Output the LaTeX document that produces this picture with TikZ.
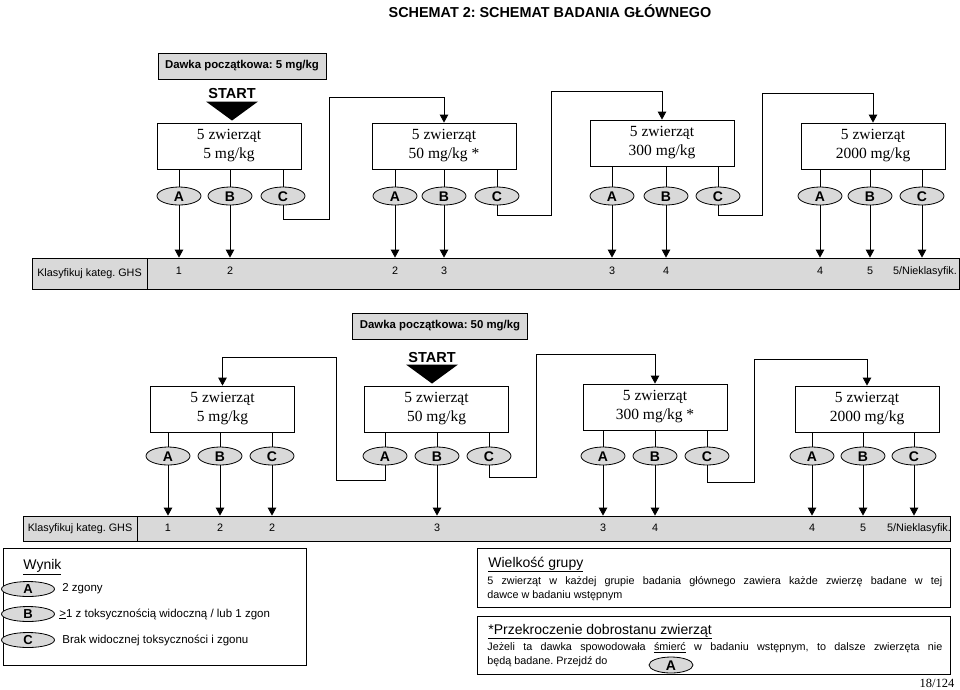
\documentclass[tikz,border=0pt]{standalone}
\usepackage{fontspec}
\usepackage{tikz}
\usetikzlibrary{shapes,arrows.meta}
\newfontfamily\arialf{Liberation Sans}
\newfontfamily\timesf{Liberation Serif}
\definecolor{lgray}{RGB}{217,217,217}
\frenchspacing

\begin{document}
\begin{tikzpicture}[x=1pt,y=-1pt,line width=0.8pt,
      dosebox/.style={draw,fill=lgray,minimum height=26pt,inner xsep=7pt,font=\arialf\bfseries\fontsize{11.4}{13}\selectfont},
      startlbl/.style={inner sep=0pt,font=\arialf\bfseries\fontsize{14.5}{16}\selectfont},
      grpbox/.style={draw,minimum width=144pt,minimum height=46pt,align=center,font=\timesf\fontsize{15.5}{19}\selectfont},
      resell/.style={draw,ellipse,fill=lgray,minimum width=44pt,minimum height=18pt,inner sep=0pt,text height=10pt,text depth=0pt,font=\arialf\bfseries\fontsize{14}{15}\selectfont},
      legell/.style={resell,minimum width=53pt,minimum height=15pt,text height=9pt,font=\arialf\bfseries\fontsize{13}{14}\selectfont},
      ghsbar/.style={draw,fill=lgray,inner sep=0pt,font=\arialf\fontsize{10.8}{12}\selectfont},
      ghsnum/.style={inner sep=0pt,anchor=base,font=\arialf\fontsize{10.8}{12}\selectfont},
      arrowto/.style={-{Triangle[length=8pt,width=8.5pt]}},
      legtext/.style={inner sep=0pt,anchor=west,font=\arialf\fontsize{11.5}{13}\selectfont},
      boxhead/.style={inner sep=0pt,anchor=base west,font=\arialf\fontsize{14}{16}\selectfont},
      boxpara/.style={inner sep=0pt,anchor=north west,text width=455pt,align=justify,font=\arialf\fontsize{10.8}{14}\selectfont}]
    \useasboundingbox (0,0) rectangle (960,689);
    \node[font=\arialf\bfseries\fontsize{14.4}{16}\selectfont] (title) at (550,11) {SCHEMAT 2: SCHEMAT BADANIA GŁÓWNEGO};

    \node[dosebox] (dose1) at (242,66) {Dawka początkowa: 5 mg/kg};
    \node[startlbl] (start1) at (232,94) {START};
    \fill ([xshift=-26pt,yshift=-2pt]start1.south) -- ++(52,0) -- ([yshift=-21pt]start1.south) -- cycle;

    \node[grpbox] (g1) at (229,146) {5 zwierząt\\5 mg/kg};
    \node[grpbox] (g2) at (444,146) {5 zwierząt\\50 mg/kg *};
    \node[grpbox] (g3) at (662,143) {5 zwierząt\\300 mg/kg};
    \node[grpbox] (g4) at (873,146) {5 zwierząt\\2000 mg/kg};

    \node[resell] (g1a) at (179,196) {A};
    \node[resell] (g1b) at (230,196) {B};
    \node[resell] (g1c) at (283,196) {C};
    \node[resell] (g2a) at (395,196) {A};
    \node[resell] (g2b) at (444,196) {B};
    \node[resell] (g2c) at (497,196) {C};
    \node[resell] (g3a) at (612,196) {A};
    \node[resell] (g3b) at (666,196) {B};
    \node[resell] (g3c) at (718,196) {C};
    \node[resell] (g4a) at (820,196) {A};
    \node[resell] (g4b) at (870,196) {B};
    \node[resell] (g4c) at (922,196) {C};

    \draw (g1a.north |- g1.south) -- (g1a.north);
    \draw (g1b.north |- g1.south) -- (g1b.north);
    \draw (g1c.north |- g1.south) -- (g1c.north);
    \draw (g2a.north |- g2.south) -- (g2a.north);
    \draw (g2b.north |- g2.south) -- (g2b.north);
    \draw (g2c.north |- g2.south) -- (g2c.north);
    \draw (g3a.north |- g3.south) -- (g3a.north);
    \draw (g3b.north |- g3.south) -- (g3b.north);
    \draw (g3c.north |- g3.south) -- (g3c.north);
    \draw (g4a.north |- g4.south) -- (g4a.north);
    \draw (g4b.north |- g4.south) -- (g4b.north);
    \draw (g4c.north |- g4.south) -- (g4c.north);

    \draw[arrowto] (g1c.south) |- (329,219) -- (329,97) -| (g2.north);
    \draw[arrowto] (g2c.south) |- (551,215) -- (551,91) -| (g3.north);
    \draw[arrowto] (g3c.south) |- (762,215) -- (762,93) -| (g4.north);

    \node[ghsbar,minimum width=115pt,minimum height=31pt] (lab1) at (89.5,273.5) {Klasyfikuj kateg. GHS};
    \node[ghsbar,minimum width=812pt,minimum height=31pt,anchor=west] (bar1) at (lab1.east) {};
    \coordinate (row1) at (0,274);
    \node[ghsnum] (n11) at (g1a |- row1) {1};
    \node[ghsnum] (n12) at (g1b |- row1) {2};
    \node[ghsnum] (n13) at (g2a |- row1) {2};
    \node[ghsnum] (n14) at (g2b |- row1) {3};
    \node[ghsnum] (n15) at (g3a |- row1) {3};
    \node[ghsnum] (n16) at (g3b |- row1) {4};
    \node[ghsnum] (n17) at (g4a |- row1) {4};
    \node[ghsnum] (n18) at (g4b |- row1) {5};
    \node[ghsnum] (n19) at (925,274) {5/Nieklasyfik.};

    \draw[arrowto] (g1a.south) -- (g1a.south |- bar1.north);
    \draw[arrowto] (g1b.south) -- (g1b.south |- bar1.north);
    \draw[arrowto] (g2a.south) -- (g2a.south |- bar1.north);
    \draw[arrowto] (g2b.south) -- (g2b.south |- bar1.north);
    \draw[arrowto] (g3a.south) -- (g3a.south |- bar1.north);
    \draw[arrowto] (g3b.south) -- (g3b.south |- bar1.north);
    \draw[arrowto] (g4a.south) -- (g4a.south |- bar1.north);
    \draw[arrowto] (g4b.south) -- (g4b.south |- bar1.north);
    \draw[arrowto] (g4c.south) -- (g4c.south |- bar1.north);

    \node[dosebox] (dose2) at (440,326) {Dawka początkowa: 50 mg/kg};
    \node[startlbl] (start2) at (432,357) {START};
    \fill ([xshift=-26pt,yshift=-2pt]start2.south) -- ++(52,0) -- ([yshift=-21pt]start2.south) -- cycle;

    \node[grpbox] (h1) at (222.5,409) {5 zwierząt\\5 mg/kg};
    \node[grpbox] (h2) at (436.5,409) {5 zwierząt\\50 mg/kg};
    \node[grpbox] (h3) at (655,407) {5 zwierząt\\300 mg/kg *};
    \node[grpbox] (h4) at (867,409) {5 zwierząt\\2000 mg/kg};

    \node[resell] (h1a) at (168,456) {A};
    \node[resell] (h1b) at (220,456) {B};
    \node[resell] (h1c) at (272,456) {C};
    \node[resell] (h2a) at (385,456) {A};
    \node[resell] (h2b) at (437,456) {B};
    \node[resell] (h2c) at (489,456) {C};
    \node[resell] (h3a) at (603,456) {A};
    \node[resell] (h3b) at (655,456) {B};
    \node[resell] (h3c) at (707,456) {C};
    \node[resell] (h4a) at (812,456) {A};
    \node[resell] (h4b) at (863,456) {B};
    \node[resell] (h4c) at (914,456) {C};

    \draw (h1a.north |- h1.south) -- (h1a.north);
    \draw (h1b.north |- h1.south) -- (h1b.north);
    \draw (h1c.north |- h1.south) -- (h1c.north);
    \draw (h2a.north |- h2.south) -- (h2a.north);
    \draw (h2b.north |- h2.south) -- (h2b.north);
    \draw (h2c.north |- h2.south) -- (h2c.north);
    \draw (h3a.north |- h3.south) -- (h3a.north);
    \draw (h3b.north |- h3.south) -- (h3b.north);
    \draw (h3c.north |- h3.south) -- (h3c.north);
    \draw (h4a.north |- h4.south) -- (h4a.north);
    \draw (h4b.north |- h4.south) -- (h4b.north);
    \draw (h4c.north |- h4.south) -- (h4c.north);

    \draw[arrowto] (h2a.south) |- (336,480) -- (336,357) -| (h1.north);
    \draw[arrowto] (h2c.south) |- (536,477) -- (536,354) -| (h3.north);
    \draw[arrowto] (h3c.south) |- (754,482) -- (754,359) -| (h4.north);

    \node[ghsbar,minimum width=114pt,minimum height=25pt] (lab2) at (80,528.5) {Klasyfikuj kateg. GHS};
    \node[ghsbar,minimum width=813pt,minimum height=25pt,anchor=west] (bar2) at (lab2.east) {};
    \coordinate (row2) at (0,531.5);
    \node[ghsnum] (n21) at (h1a |- row2) {1};
    \node[ghsnum] (n22) at (h1b |- row2) {2};
    \node[ghsnum] (n23) at (h1c |- row2) {2};
    \node[ghsnum] (n24) at (h2b |- row2) {3};
    \node[ghsnum] (n25) at (h3a |- row2) {3};
    \node[ghsnum] (n26) at (h3b |- row2) {4};
    \node[ghsnum] (n27) at (h4a |- row2) {4};
    \node[ghsnum] (n28) at (h4b |- row2) {5};
    \node[ghsnum] (n29) at (919,531.5) {5/Nieklasyfik.};

    \draw[arrowto] (h1a.south) -- (h1a.south |- bar2.north);
    \draw[arrowto] (h1b.south) -- (h1b.south |- bar2.north);
    \draw[arrowto] (h1c.south) -- (h1c.south |- bar2.north);
    \draw[arrowto] (h2b.south) -- (h2b.south |- bar2.north);
    \draw[arrowto] (h3a.south) -- (h3a.south |- bar2.north);
    \draw[arrowto] (h3b.south) -- (h3b.south |- bar2.north);
    \draw[arrowto] (h4a.south) -- (h4a.south |- bar2.north);
    \draw[arrowto] (h4b.south) -- (h4b.south |- bar2.north);
    \draw[arrowto] (h4c.south) -- (h4c.south |- bar2.north);

    \node[draw,minimum width=303pt,minimum height=117pt] (wynik) at (154.5,606.5) {};
    \node[boxhead] (wynikhead) at (23,569.5) {\underline{Wynik}};
    \node[legell] (la) at (28,589) {A};
    \node[legell] (lb) at (28,614) {B};
    \node[legell] (lc) at (28,640) {C};
    \node[legtext] (ta) at (62,589) {2 zgony};
    \node[legtext] (tb) at (59,614) {\underline{>}1 z toksycznością widoczną / lub 1 zgon};
    \node[legtext] (tc) at (62,640) {Brak widocznej toksyczności i zgonu};

    \node[draw,minimum width=473pt,minimum height=59pt] (size) at (713.5,577.5) {};
    \node[boxhead] (sizehead) at (488,567) {\underline{Wielkość grupy}};
    \node[boxpara] (sizetext) at (487,576.5) {5 zwierząt w każdej grupie badania głównego zawiera każde zwierzę badane w tej\linebreak dawce w badaniu wstępnym};

    \node[draw,minimum width=473pt,minimum height=58pt] (welfare) at (713.5,645) {};
    \node[boxhead] (welfarehead) at (488,634) {\underline{*Przekroczenie dobrostanu zwierząt}};
    \node[boxpara] (welfaretext) at (487,642.5) {Jeżeli ta dawka spowodowała \underline{śmierć} w badaniu wstępnym, to dalsze zwierzęta nie\linebreak będą badane. Przejdź do};
    \node[resell,minimum height=16pt] (goa) at (671,665) {A};

    \node[font=\timesf\fontsize{12.5}{14}\selectfont,inner sep=0pt] (page) at (937,683) {18/124};
  \end{tikzpicture}
\end{document}
